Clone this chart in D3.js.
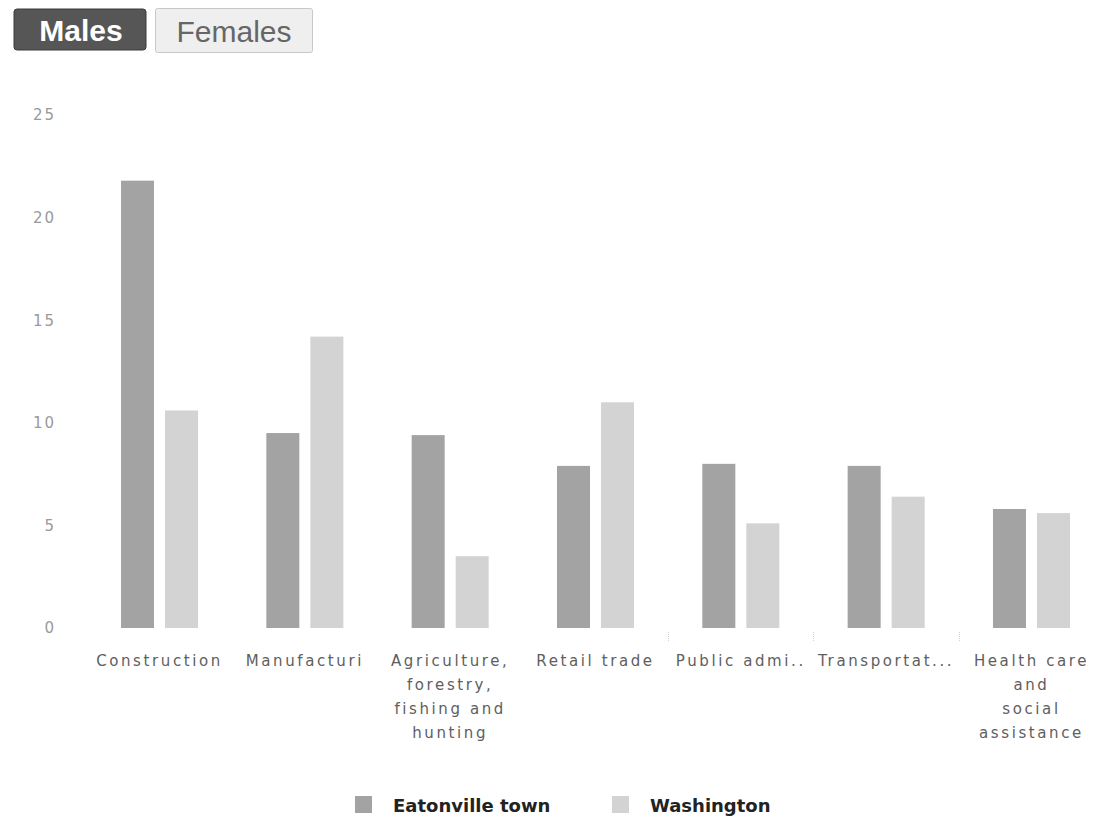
<!DOCTYPE html>
<html>
<head>
<meta charset="utf-8">
<script src="https://cdn.jsdelivr.net/npm/d3@7"></script>
<style>
  html, body { margin: 0; padding: 0; background: #fff; }
  svg { display: block; }
</style>
</head>
<body>
<svg id="chart" width="1104" height="824"></svg>
<script>
// Industry categories (displayed label lines) and the two compared series (% of males employed)
const categories = ["Construction", "Manufacturing", "Agriculture", "Retail trade", "Public administration", "Transportation", "Health care"];
const categoryLabels = [
  ["Construction"],
  ["Manufacturi"],
  ["Agriculture,", "forestry,", "fishing and", "hunting"],
  ["Retail trade"],
  ["Public admi.."],
  ["Transportat..."],
  ["Health care", "and", "social", "assistance"]
];
const seriesNames = ["Eatonville town", "Washington"];
const eatonville = [21.8, 9.5, 9.4, 7.9, 8.0, 7.9, 5.8];
const washington = [10.6, 14.2, 3.5, 11.0, 5.1, 6.4, 5.6];
const yTicks = [0, 5, 10, 15, 20, 25];
const buttons = ["Males", "Females"];

const colors = { "Eatonville town": "#a3a3a3", "Washington": "#d3d3d3" };

const svg = d3.select("#chart");

// Toggle buttons
const btn = svg.append("g");
btn.append("rect").attr("x", 14).attr("y", 9).attr("width", 132).attr("height", 41).attr("rx", 3)
  .attr("fill", "#565656").attr("stroke", "#3a3a3a");
btn.append("text").attr("x", 81).attr("y", 41).attr("text-anchor", "middle")
  .attr("font-family", "Liberation Sans, Arial, sans-serif").attr("font-weight", "bold")
  .attr("font-size", 30).attr("fill", "#fff").text(buttons[0]);
btn.append("rect").attr("x", 155.5).attr("y", 8.5).attr("width", 157).attr("height", 44).attr("rx", 2)
  .attr("fill", "#efefef").attr("stroke", "#c8c8c8");
btn.append("text").attr("x", 234).attr("y", 42).attr("text-anchor", "middle")
  .attr("font-family", "Liberation Sans, Arial, sans-serif")
  .attr("font-size", 30).attr("fill", "#666").text(buttons[1]);

// Scales
const y = d3.scaleLinear().domain([0, 25]).range([628, 115]);
const x0 = d3.scaleBand().domain(categories).range([87, 1104]).paddingInner(0.47).paddingOuter(0.234);
const x1 = d3.scaleBand().domain(seriesNames).range([0, x0.bandwidth()]).paddingInner(0.25);

// Y axis labels
const yAxis = d3.axisLeft(y).tickValues(yTicks).tickSize(0).tickPadding(0);
const yg = svg.append("g").attr("transform", "translate(56,0)").call(yAxis);
yg.select(".domain").remove();
yg.selectAll("text").attr("font-family", "DejaVu Sans, sans-serif").attr("font-size", 15)
  .attr("letter-spacing", 2).attr("fill", "#9a9a9a");

// Bars
const rows = categories.map((c, i) => ({ cat: c, values: [
  { key: seriesNames[0], value: eatonville[i] },
  { key: seriesNames[1], value: washington[i] }
]}));

const groups = svg.append("g").selectAll("g").data(rows).join("g")
  .attr("transform", d => `translate(${x0(d.cat)},0)`);
groups.selectAll("rect").data(d => d.values).join("rect")
  .attr("x", d => x1(d.key))
  .attr("width", x1.bandwidth())
  .attr("y", d => y(d.value))
  .attr("height", d => y(0) - y(d.value))
  .attr("fill", d => colors[d.key]);

// Faint group separator ticks under the later groups
const step = x0.step();
const sepG = svg.append("g");
categories.slice(4).forEach(c => {
  const sx = Math.round(x0(c) - step * x0.paddingInner() / 2) + 0.5;
  sepG.append("line").attr("x1", sx).attr("x2", sx).attr("y1", 632).attr("y2", 641)
    .attr("stroke", "#cfcfcf").attr("stroke-dasharray", "1,1");
});

// Category labels
const lab = svg.append("g");
categories.forEach((c, i) => {
  const cx = x0(c) + x0.bandwidth() / 2;
  const t = lab.append("text").attr("text-anchor", "middle")
    .attr("font-family", "DejaVu Sans, sans-serif").attr("font-size", 15)
    .attr("letter-spacing", 2.6).attr("fill", "#5e5e5e");
  categoryLabels[i].forEach((line, j) => {
    t.append("tspan").attr("x", cx).attr("y", 666 + j * 24).text(line);
  });
});

// Legend
const legend = svg.append("g");
const legendX = [355, 612];
seriesNames.forEach((s, i) => {
  legend.append("rect").attr("x", legendX[i]).attr("y", 796).attr("width", 17).attr("height", 17)
    .attr("fill", colors[s]);
  legend.append("text").attr("x", legendX[i] + 38).attr("y", 812)
    .attr("font-family", "DejaVu Sans, sans-serif").attr("font-weight", "bold")
    .attr("font-size", 18).attr("fill", "#222").text(s);
});
</script>
</body>
</html>
